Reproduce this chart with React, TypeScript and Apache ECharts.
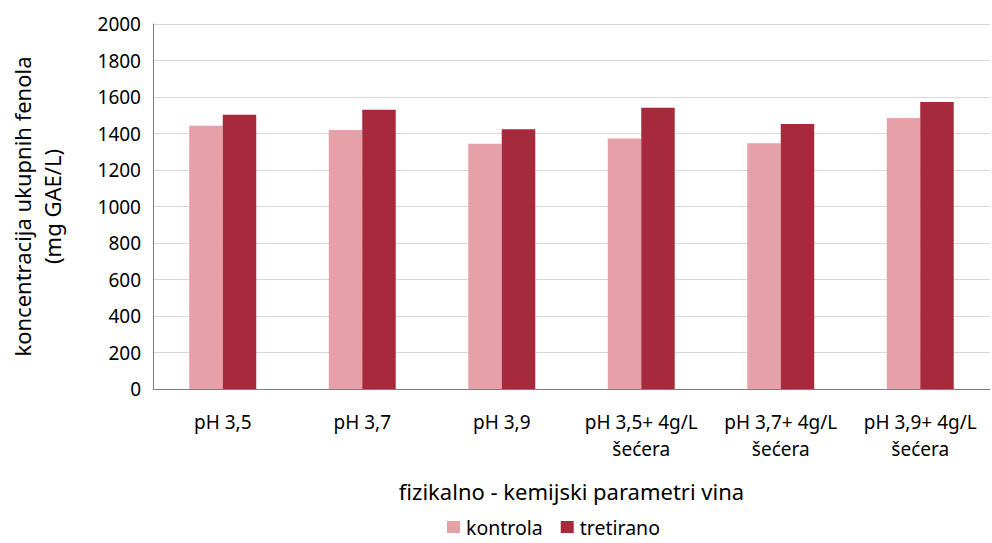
import React, { useEffect, useRef } from "react";
import * as echarts from "echarts";

const categories = [
  "pH 3,5",
  "pH 3,7",
  "pH 3,9",
  "pH 3,5+ 4g/L\nšećera",
  "pH 3,7+ 4g/L\nšećera",
  "pH 3,9+ 4g/L\nšećera",
];
const kontrola = [1443, 1419, 1344, 1373, 1346, 1485];
const tretirano = [1503, 1530, 1423, 1541, 1452, 1573];
const seriesNames = ["kontrola", "tretirano"];
const colors = ["#E6A0A7", "#A62A3B"];

const FONT = "'Noto Sans', sans-serif";

export default function App() {
  const ref = useRef<HTMLDivElement>(null);
  useEffect(() => {
    if (!ref.current) return;
    const chart = echarts.init(ref.current, undefined, { renderer: "svg" });
    chart.setOption({
      animation: false,
      textStyle: { fontFamily: FONT, color: "#000" },
      grid: {
        left: 153,
        right: 2,
        top: 24,
        bottom: 154,
        containLabel: false,
        outerBoundsMode: "none",
      },
      legend: {
        data: seriesNames,
        top: 517,
        left: 447,
        padding: 0,
        itemWidth: 13,
        itemHeight: 12,
        itemGap: 18,
        icon: "rect",
        textStyle: { fontFamily: FONT, fontSize: 19.5, lineHeight: 20, color: "#000", padding: [0, 0, 0, 1] },
      },
      xAxis: {
        type: "category",
        data: categories,
        name: "fizikalno - kemijski parametri vina",
        nameLocation: "middle",
        nameGap: 91,
        nameTextStyle: { fontFamily: FONT, fontSize: 22, color: "#000" },
        axisLine: { lineStyle: { color: "#7f7f7f", width: 1 } },
        axisTick: { show: false },
        axisLabel: {
          interval: 0,
          margin: 19,
          fontFamily: FONT,
          fontSize: 19,
          lineHeight: 27,
          color: "#000",
        },
      },
      yAxis: {
        type: "value",
        min: 0,
        max: 2000,
        interval: 200,
        name: "koncentracija ukupnih fenola\n(mg GAE/L)",
        nameLocation: "middle",
        nameGap: 86,
        nameRotate: 90,
        nameTextStyle: { fontFamily: FONT, fontSize: 22, lineHeight: 30, color: "#000" },
        axisLine: { show: true, lineStyle: { color: "#7f7f7f", width: 1 } },
        axisTick: { show: false },
        splitLine: { lineStyle: { color: "#d9d9d9", width: 1 } },
        axisLabel: {
          margin: 12,
          fontFamily: FONT,
          fontSize: 19,
          color: "#000",
          formatter: (v: number) => String(v),
        },
      },
      series: [
        {
          name: seriesNames[0],
          type: "bar",
          data: kontrola,
          barWidth: "24%",
          barGap: "0%",
          itemStyle: { color: colors[0] },
        },
        {
          name: seriesNames[1],
          type: "bar",
          data: tretirano,
          barWidth: "24%",
          barGap: "0%",
          itemStyle: { color: colors[1] },
        },
      ],
    });
    return () => chart.dispose();
  }, []);
  return (
    <div
      ref={ref}
      style={{ position: "absolute", left: 0, top: 0, width: 992, height: 543 }}
    />
  );
}
